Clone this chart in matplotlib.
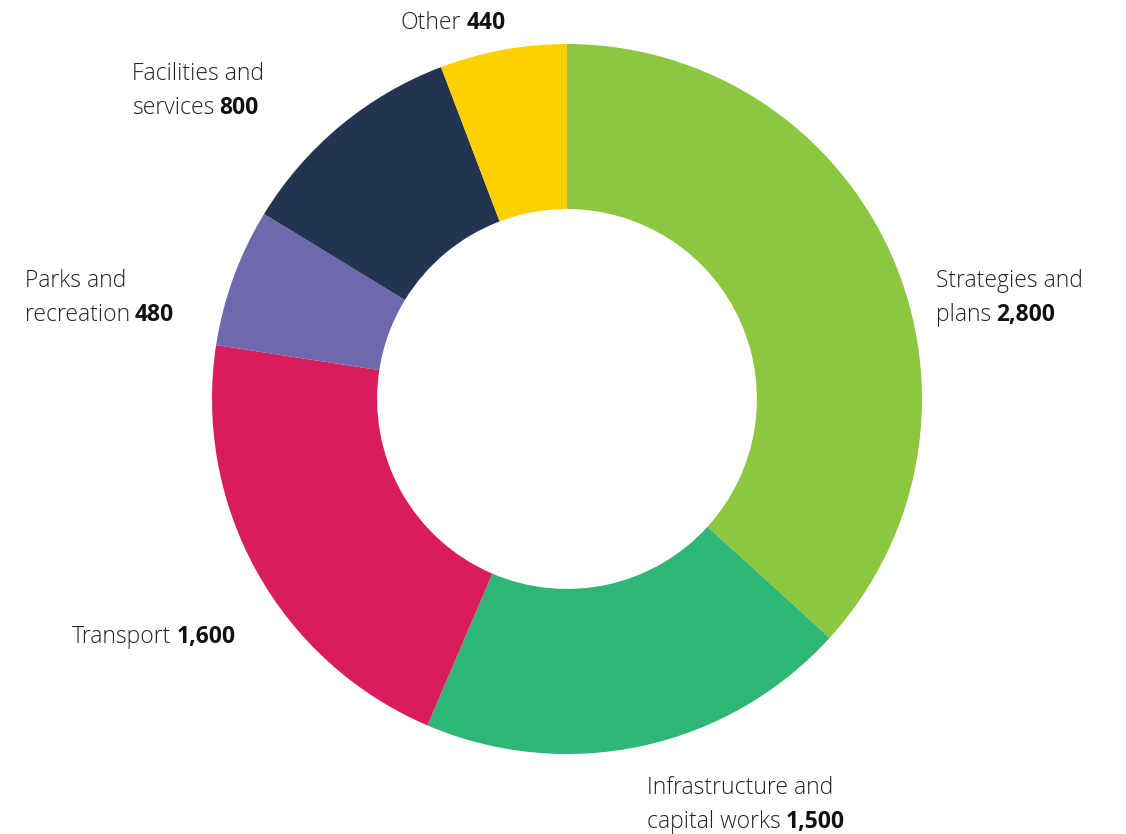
import matplotlib.pyplot as plt
from matplotlib.offsetbox import TextArea, HPacker, VPacker, AnnotationBbox

# data
categories = ['Strategies and plans', 'Infrastructure and capital works', 'Transport',
              'Parks and recreation', 'Facilities and services', 'Other']
values = [2800, 1500, 1600, 480, 800, 440]
colors = ['#8DC63F', '#2DB674', '#D91D5C', '#6E68AF', '#22344F', '#FFCF00']

# label text: lines of normal text, bold value appended to the last line
label_lines = [
    ['Strategies and', 'plans'],
    ['Infrastructure and', 'capital works'],
    ['Transport'],
    ['Parks and', 'recreation'],
    ['Facilities and', 'services'],
    ['Other'],
]
# top-left of each label, in pixels from the top-left of the image
label_pos = [(936, 269), (647, 776), (72, 625), (25, 269), (132, 62), (401, 11)]

W, H = 1126, 834
fig = plt.figure(figsize=(W / 100, H / 100), dpi=100)
ax = fig.add_axes([0, 0, 1, 1])
ax.set_xlim(0, W)
ax.set_ylim(0, H)
ax.set_aspect('equal')
ax.axis('off')

cx, cy, r = 567, H - 399, 355
ax.pie(values, colors=colors, startangle=90, counterclock=False,
       center=(cx, cy), radius=r,
       wedgeprops=dict(width=r * 0.465, linewidth=0))
ax.set_xlim(0, W)
ax.set_ylim(0, H)

fam = ['Open Sans', 'DejaVu Sans']
normal = dict(color='#222222', fontsize=16.5, family=fam, fontweight=300)
bold = dict(color='#111111', fontsize=16.5, family=fam, fontweight='bold')

for lines, v, (px, py) in zip(label_lines, values, label_pos):
    rows = []
    for i, ln in enumerate(lines):
        if i == len(lines) - 1:
            row = HPacker(children=[TextArea(ln, textprops=normal),
                                    TextArea(f'{v:,}', textprops=bold)],
                          pad=0, sep=3.5, align='baseline')
        else:
            row = TextArea(ln, textprops=normal)
        rows.append(row)
    box = VPacker(children=rows, pad=0, sep=7, align='left')
    ab = AnnotationBbox(box, (px, H - py), xycoords='data', box_alignment=(0, 1),
                        frameon=False, pad=0)
    ax.add_artist(ab)

fig.savefig('out.png', dpi=100, facecolor='white')
